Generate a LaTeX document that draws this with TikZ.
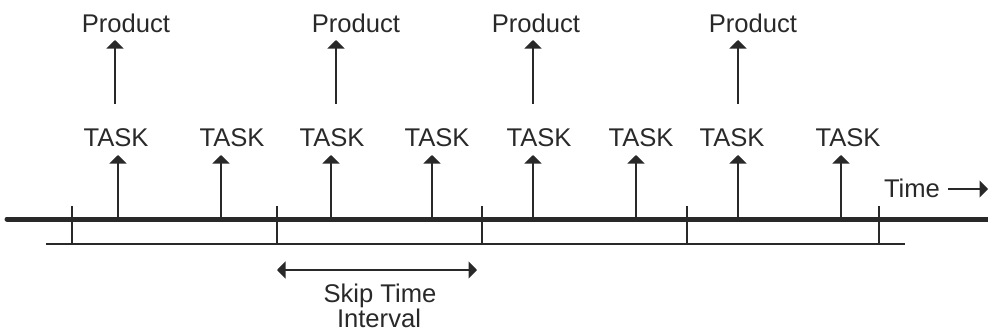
\documentclass[tikz,border=0pt]{standalone}
\usepackage{fontspec}
\setmainfont{Liberation Sans}
\usetikzlibrary{arrows.meta}
\definecolor{ink}{rgb}{0.16,0.16,0.16}
\begin{document}
\begin{tikzpicture}[x=1pt,y=-1pt,
  lbl/.style={inner sep=0pt,anchor=base,text=ink,font=\fontsize{25.6}{30}\selectfont},
  up/.style={draw=ink,line width=2pt,-{Triangle[width=17pt,length=8.5pt]}},
  thin/.style={draw=ink,line width=2pt},
  thick/.style={draw=ink,line width=5pt,line cap=round},
  skip/.style={draw=ink,line width=2pt,{Triangle[width=17pt,length=8.5pt]}-{Triangle[width=17pt,length=8.5pt]}}]
\useasboundingbox (0,0) rectangle (988,332);
% timeline
\coordinate (L0) at (7,219);
\coordinate (L1) at (988,219);
\draw[thick] (L0) -- (L1);
\coordinate (B0) at (46,244);
\coordinate (B1) at (905,244);
\draw[thin] (B0) -- (B1);
% ticks
\foreach \x [count=\i] in {72,277,482,687,879}{
  \coordinate (k\i a) at (\x,206);
  \coordinate (k\i b) at (\x,244);
  \draw[thin] (k\i a) -- (k\i b);
}
% tasks
\foreach \ax/\lx [count=\i] in {118/116,221/232,331/332,432/437,533/539,636/641,738/732,841/848}{
  \node[lbl] (T\i) at (\lx,146) {TASK};
  \coordinate (ts\i) at (\ax,217);
  \coordinate (te\i) at (\ax,155);
  \draw[up] (ts\i) -- (te\i);
}
% products
\foreach \ax/\lx [count=\i] in {115/126,336/356,533/536,738/753}{
  \node[lbl] (P\i) at (\lx,32) {Product};
  \coordinate (ps\i) at (\ax,104);
  \coordinate (pe\i) at (\ax,40);
  \draw[up] (ps\i) -- (pe\i);
}
% time
\node[lbl] (time) at (912,197) {Time};
\coordinate (tm0) at (948,189);
\coordinate (tm1) at (988,189);
\draw[up] (tm0) -- (tm1);
% skip interval
\coordinate (s0) at (277,270);
\coordinate (s1) at (477,270);
\draw[skip] (s0) -- (s1);
\node[lbl] (skipa) at (380,302) {Skip Time};
\node[lbl] (skipb) at (379,327) {Interval};
\end{tikzpicture}
\end{document}
